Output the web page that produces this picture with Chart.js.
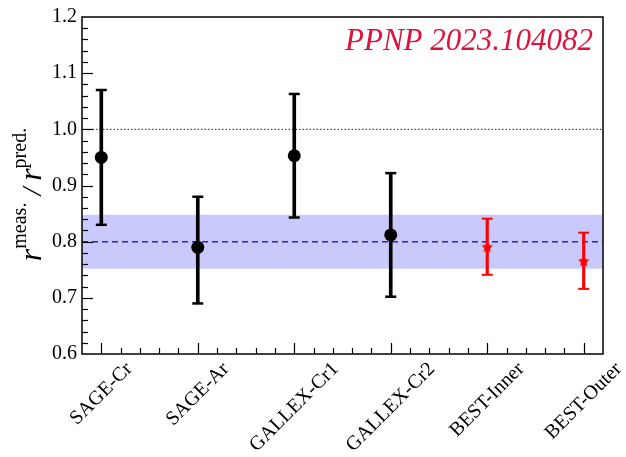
<!DOCTYPE html>
<html>
<head>
<meta charset="utf-8">
<script src="https://cdn.jsdelivr.net/npm/chart.js@4/dist/chart.umd.min.js"></script>
<style>
html,body{margin:0;padding:0;background:#fff;}
#c{display:block;}
</style>
</head>
<body>
<canvas id="c" width="626" height="457"></canvas>
<script>
// ---- data ----
const experiments = ['SAGE-Cr', 'SAGE-Ar', 'GALLEX-Cr1', 'GALLEX-Cr2', 'BEST-Inner', 'BEST-Outer'];
const ratio   = [0.950, 0.790, 0.953, 0.812, 0.791, 0.766];
const errUp   = [0.12, 0.09, 0.11, 0.11, 0.05, 0.05];
const errDown = [0.12, 0.10, 0.11, 0.11, 0.05, 0.05];
const group   = ['Ga', 'Ga', 'Ga', 'Ga', 'BEST', 'BEST'];
const bandRange = [0.752, 0.848];
const meanRatio = 0.80;
const unity = 1.0;
const xRange = [-0.2, 5.2];
const yRange = [0.6, 1.2];
const yTickStep = 0.1;
const refLabel = 'PPNP 2023.104082';

// ---- helpers ----
const idx = g => experiments.map((_, i) => i).filter(i => group[i] === g);
const centers = g => idx(g).map(i => ({x: i, y: ratio[i]}));
const ranges = g => idx(g).map(i => ({x: i, y: [ratio[i] - errDown[i], ratio[i] + errUp[i]]}));
const caps = g => idx(g).flatMap(i => [{x: i, y: ratio[i] - errDown[i]}, {x: i, y: ratio[i] + errUp[i]}]);
const hline = v => xRange.map(x => ({x, y: v}));

function makeStar(r, color) {
  const s = Math.ceil(r * 2 + 2);
  const c = document.createElement('canvas');
  c.width = s; c.height = s;
  const g = c.getContext('2d');
  g.fillStyle = color;
  g.beginPath();
  for (let k = 0; k < 10; k++) {
    const rr = k % 2 ? r * 0.5 : r;
    const a = -Math.PI / 2 + k * Math.PI / 5;
    g.lineTo(s / 2 + rr * Math.cos(a), s / 2 + rr * Math.sin(a) + r * 0.1);
  }
  g.closePath();
  g.fill();
  return c;
}

const SERIF = '"Liberation Serif"';

const decorPlugin = {
  id: 'decor',
  afterDatasetsDraw(chart) {
    const {ctx, chartArea: a, scales: {x, y}} = chart;
    ctx.save();
    ctx.strokeStyle = '#000';
    ctx.lineWidth = 1.2;
    const nY = Math.round((yRange[1] - yRange[0]) / (yTickStep / 5));
    for (let k = 1; k < nY; k++) {
      const v = yRange[0] + k * yTickStep / 5;
      const py = Math.round(y.getPixelForValue(v)) + 0.5;
      const len = (k % 5 === 0) ? 11 : 6;
      ctx.beginPath(); ctx.moveTo(a.left, py); ctx.lineTo(a.left + len, py); ctx.stroke();
    }
    const nX = Math.round((xRange[1] - xRange[0]) / 0.2);
    for (let k = 1; k < nX; k++) {
      const v = xRange[0] + k * 0.2;
      const px = Math.round(x.getPixelForValue(v)) + 0.5;
      const major = Math.abs(v - Math.round(v)) < 1e-6;
      const len = major ? 11 : 6;
      ctx.beginPath(); ctx.moveTo(px, a.bottom); ctx.lineTo(px, a.bottom - len); ctx.stroke();
    }
    ctx.lineWidth = 1.5;
    ctx.strokeRect(a.left, a.top, a.right - a.left, a.bottom - a.top);
    ctx.restore();
  },
  afterDraw(chart) {
    const {ctx, chartArea: a, scales: {x}} = chart;
    ctx.save();
    ctx.fillStyle = '#000';
    ctx.font = '20px ' + SERIF;
    ctx.textAlign = 'right';
    ctx.textBaseline = 'middle';
    experiments.forEach((name, i) => {
      const px = x.getPixelForValue(i);
      const w = ctx.measureText(name).width;
      ctx.save();
      ctx.translate(px + w * Math.SQRT1_2 / 2, a.bottom + 12);
      ctx.rotate(-Math.PI / 4);
      ctx.fillText(name, 0, 0);
      ctx.restore();
    });
    const parts = [
      {t: 'r', f: 'italic 32px ' + SERIF, dy: 0},
      {t: 'meas.', f: '20px ' + SERIF, dy: -15},
      {t: ' / ', f: 'italic 28px ' + SERIF, dy: 0},
      {t: 'r', f: 'italic 32px ' + SERIF, dy: 0},
      {t: 'pred.', f: '20px ' + SERIF, dy: -15}
    ];
    let total = 0;
    parts.forEach(p => { ctx.font = p.f; p.w = ctx.measureText(p.t).width; total += p.w; });
    ctx.save();
    ctx.translate(41, (a.top + a.bottom) / 2 + 9);
    ctx.rotate(-Math.PI / 2);
    ctx.textAlign = 'left';
    ctx.textBaseline = 'alphabetic';
    let cx = -total / 2;
    parts.forEach(p => { ctx.font = p.f; ctx.fillText(p.t, cx, p.dy); cx += p.w; });
    ctx.restore();
    ctx.font = 'italic 31px ' + SERIF;
    ctx.fillStyle = '#dc143c';
    ctx.textAlign = 'right';
    ctx.textBaseline = 'alphabetic';
    ctx.fillText(refLabel, a.right - 10, a.top + 33);
    ctx.restore();
  }
};

function build() {
  new Chart(document.getElementById('c'), {
    type: 'scatter',
    data: {
      datasets: [
        {type: 'line', label: 'band low', data: hline(bandRange[0]), borderWidth: 0, pointRadius: 0, fill: false, order: 20},
        {type: 'line', label: 'band high', data: hline(bandRange[1]), borderWidth: 0, pointRadius: 0,
         fill: '-1', backgroundColor: 'rgba(0,0,240,0.21)', order: 19},
        {type: 'line', label: 'unity', data: hline(unity), borderColor: '#222', borderWidth: 1,
         borderDash: [1.5, 2], pointRadius: 0, order: 15},
        {type: 'line', label: 'mean', data: hline(meanRatio), borderColor: '#2424d8', borderWidth: 1.5,
         borderDash: [6, 4], pointRadius: 0, order: 14},
        {type: 'bar', label: 'Ga err', data: ranges('Ga'), backgroundColor: '#000', barThickness: 3,
         grouped: false, order: 10},
        {type: 'bar', label: 'BEST err', data: ranges('BEST'), backgroundColor: '#f00', barThickness: 2.5,
         grouped: false, order: 10},
        {type: 'scatter', label: 'Ga caps', data: caps('Ga'), pointStyle: 'line', pointRadius: 5.5,
         borderColor: '#000', borderWidth: 2.5, order: 9},
        {type: 'scatter', label: 'BEST caps', data: caps('BEST'), pointStyle: 'line', pointRadius: 5.5,
         borderColor: '#f00', borderWidth: 2, order: 9},
        {type: 'scatter', label: 'Ga', data: centers('Ga'), pointStyle: 'circle', pointRadius: 6.5,
         backgroundColor: '#000', borderColor: '#000', borderWidth: 0, order: 1},
        {type: 'scatter', label: 'BEST', data: centers('BEST'), pointStyle: makeStar(6, '#f00'),
         pointRadius: 6, order: 1}
      ]
    },
    options: {
      responsive: false,
      animation: false,
      devicePixelRatio: 1,
      font: {family: SERIF},
      layout: {padding: {top: 17, right: 23, left: 0, bottom: 0}},
      plugins: {legend: {display: false}, tooltip: {enabled: false}},
      scales: {
        x: {
          type: 'linear', min: xRange[0], max: xRange[1], offset: false,
          grid: {display: false, drawTicks: false}, border: {display: false},
          ticks: {display: false},
          afterFit(s) { s.height = 103; }
        },
        y: {
          type: 'linear', min: yRange[0], max: yRange[1],
          grid: {display: false, drawTicks: false}, border: {display: false},
          ticks: {
            stepSize: yTickStep, color: '#000', padding: 5,
            font: {family: SERIF, size: 20},
            callback: v => Number(v).toFixed(1)
          },
          afterFit(s) { s.width = 82; }
        }
      }
    },
    plugins: [decorPlugin]
  });
}

const fontLoads = ['20px "Liberation Serif"', 'italic 20px "Liberation Serif"'].map(f =>
  (document.fonts && document.fonts.load) ? document.fonts.load(f).catch(() => null) : Promise.resolve());
Promise.all(fontLoads).then(build, build);
</script>
</body>
</html>
